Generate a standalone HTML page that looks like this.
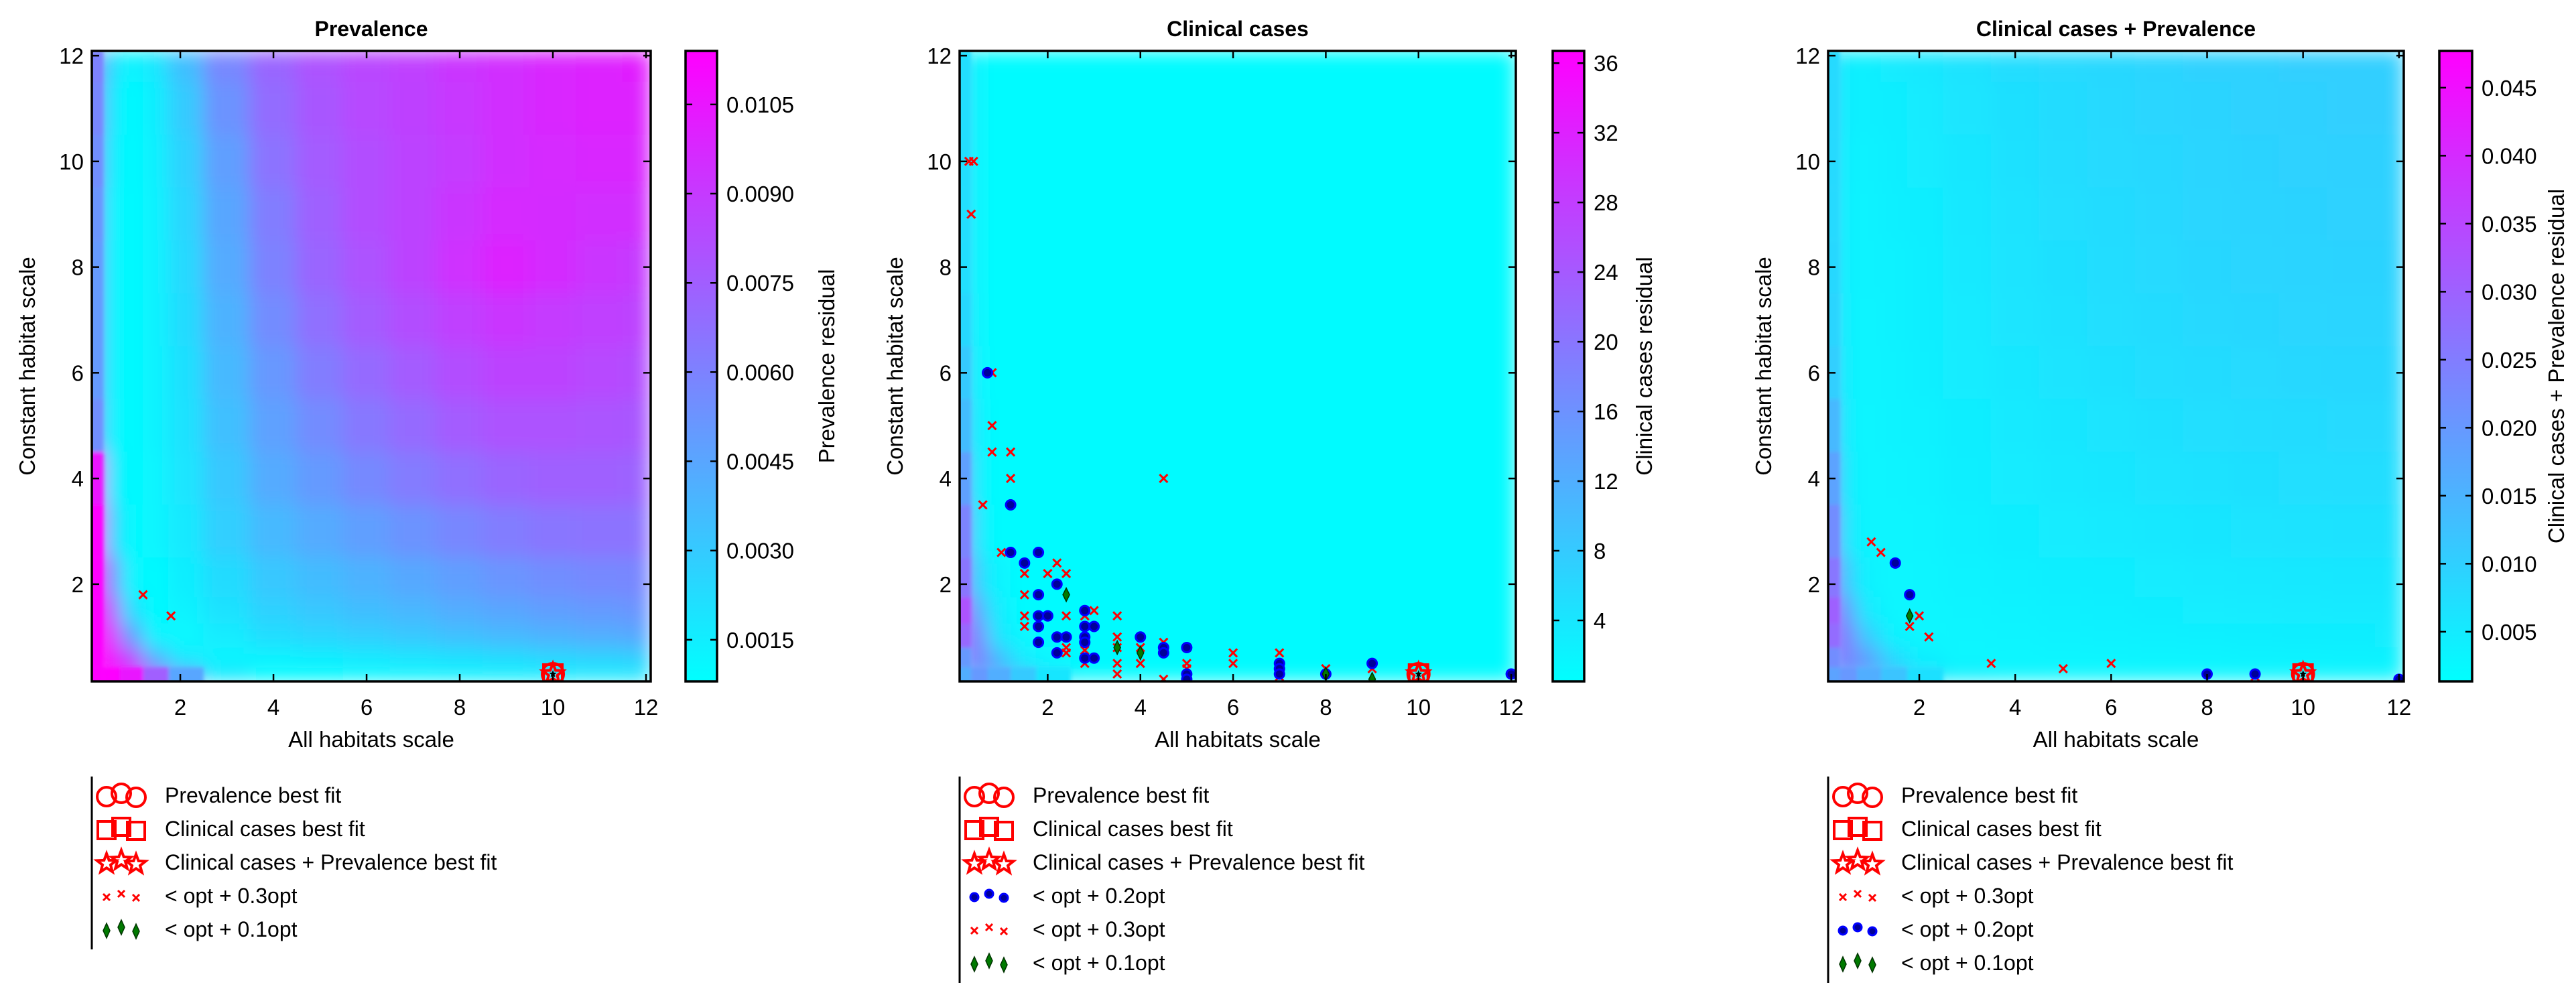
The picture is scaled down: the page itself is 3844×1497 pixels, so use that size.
<!DOCTYPE html>
<html><head><meta charset="utf-8"><style>
html,body{margin:0;padding:0;background:#fff;}
svg{display:block;font-family:"Liberation Sans","DejaVu Sans",sans-serif;}
</style></head><body>
<svg id="fig" xmlns="http://www.w3.org/2000/svg" width="3844" height="1497" viewBox="0 0 3844 1497">
<defs>
<filter id="soft" x="0" y="0" width="1" height="1"><feGaussianBlur stdDeviation="14" edgeMode="duplicate"/></filter>
<filter id="soft2" x="-5%" y="-5%" width="110%" height="110%"><feGaussianBlur stdDeviation="3"/></filter>
<linearGradient id="coolgrad" x1="0" y1="1" x2="0" y2="0"><stop offset="0" stop-color="#00ffff"/><stop offset="1" stop-color="#ff00ff"/></linearGradient>
</defs>
</svg>
<script>
// ---------- data ----------
const xCenters = [0.2,0.5,0.9,1.5,2,3,4,5,6,7,8,9,10,11,12];
const yCenters = [12,11,10,9,8,7,6,5,4,3,2,1.5,1,0.6,0.25];
const xTicks = [2,4,6,8,10,12];
const yTicks = [2,4,6,8,10,12];

// Prevalence residual (x1e-4)
const prevGrid = [
[60,22,12,18,35,58,72,80,85,88,92,95,98,100,102],
[58,18,10,15,30,53,69,78,84,87,91,95,98,100,100],
[55,15,10,14,27,48,66,76,82,86,90,95,97,98,98],
[52,12,10,13,25,45,62,74,82,86,92,97,96,95,95],
[50,12,10,13,24,43,60,72,80,86,94,100,96,92,90],
[50,12,10,13,23,40,56,68,76,82,88,92,90,88,86],
[50,12,10,13,21,37,51,62,70,76,82,86,86,84,82],
[55,12,10,13,20,34,47,56,64,70,76,80,80,79,78],
[105,18,10,12,19,31,43,50,57,63,68,72,74,74,73],
[113,30,10,12,17,28,37,43,48,53,58,62,65,66,66],
[113,60,12,10,15,23,31,36,40,44,48,52,55,57,58],
[113,85,22,10,13,20,27,31,35,38,42,45,48,50,52],
[113,103,48,12,11,16,22,25,28,31,34,37,40,42,44],
[113,110,85,38,16,12,13,15,17,19,21,23,25,27,28],
[113,113,105,75,45,18,10,10,11,12,13,14,15,16,17]];
// Clinical cases residual
const clinGrid = [
[5,1.5,1,1,1,1,1,1,1,1,1,1,1,1,1],
[5,1.5,1,1,1,1,1,1,1,1,1,1,1,1,1],
[5,1.5,1,1,1,1,1,1,1,1,1,1,1,1,1],
[5,1.5,1,1,1,1,1,1,1,1,1,1,1,1,1],
[5,1.5,1,1,1,1,1,1,1,1,1,1,1,1,1],
[6,1.5,1,1,1,1,1,1,1,1,1,1,1,1,1],
[8,1.5,1,1,1,1,1,1,1,1,1,1,1,1,1],
[10,2,1,1,1,1,1,1,1,1,1,1,1,1,1],
[14,2,1,1,1,1,1,1,1,1,1,1,1,1,1],
[18,3,1,1,1,1,1,1,1,1,1,1,1,1,1],
[20,6,2,1,1,1,1,1,1,1,1,1,1,1,1],
[25,12,3,1,1,1,1,1,1,1,1,1,1,1,1],
[22,18,4,1.5,1,1,1,1,1,1,1,1,1,1,1],
[15,20,10,3,1.5,1,1,1,1,1,1,1,1,1,1],
[12,15,12,8,4,1.5,1,1,1,1,1,1,1,1,1]];
// Clinical + prevalence residual (x1e-3)
const combGrid = [
[8,4,4,5,5.5,6.5,7.5,8,8.5,9,9.5,9.5,10,10,10],
[8,4,4,4.5,5,6,7,7.8,8.3,8.8,9.2,9.5,9.8,10,10],
[8,3.8,3.8,4.3,4.8,5.8,6.8,7.5,8,8.5,9,9.3,9.6,9.8,9.8],
[8,3.6,3.6,4,4.5,5.5,6.5,7.2,7.8,8.3,8.8,9.2,9.4,9.5,9.5],
[8.5,3.5,3.5,3.8,4.3,5.3,6.2,7,7.5,8,8.6,9,9.2,9.3,9.3],
[9,3.5,3.4,3.7,4.2,5,6,6.7,7.2,7.7,8.2,8.6,8.8,9,9],
[10,3.5,3.3,3.6,4,4.8,5.6,6.3,6.8,7.3,7.7,8.1,8.4,8.6,8.6],
[14,3.6,3.2,3.5,3.8,4.5,5.2,5.8,6.3,6.8,7.2,7.5,7.8,8,8],
[18,4,3.2,3.4,3.6,4.2,4.8,5.3,5.8,6.2,6.6,6.9,7.2,7.3,7.4],
[22,5,3.2,3.2,3.4,3.9,4.4,4.8,5.2,5.6,5.9,6.2,6.4,6.6,6.7],
[26,10,3.5,3,3.2,3.5,3.9,4.2,4.5,4.8,5.1,5.3,5.5,5.7,5.8],
[30,18,5,3,3,3.3,3.6,3.9,4.1,4.4,4.6,4.8,5,5.1,5.2],
[28,24,10,3.5,3,3.1,3.3,3.5,3.7,3.9,4.1,4.3,4.4,4.5,4.6],
[22,25,18,8,4,3,3,3.1,3.2,3.3,3.4,3.5,3.6,3.7,3.8],
[18,20,16,12,7,4,3,2.8,2.8,2.9,3,3,3.1,3.1,3.2]];

const prevTicks = ["0.0015","0.0030","0.0045","0.0060","0.0075","0.0090","0.0105"];
const clinTicks = ["4","8","12","16","20","24","28","32","36"];
const combTicks = ["0.005","0.010","0.015","0.020","0.025","0.030","0.035","0.040","0.045"];

const bestFitX = [10];
const bestFitY = [0.3];

const p1CrossX = [1.2,1.8];
const p1CrossY = [1.8,1.4];

const p2CrossX = [0.3,0.4,0.35,0.8,0.8,0.8,1.2,1.2,0.6,1.0,4.5,2.2,1.5,2,2.4,1.5,1.5,2.4,3.5,1.5,3,2.8,2.4,2.4,2.8,2.8,3.5,3.5,3.5,3.5,4,4,4.5,4.5,5,5,5,6,6,7,7,8,9];
const p2CrossY = [10,10,9,6,5,4.5,4.5,4,3.5,2.6,4,2.4,2.2,2.2,2.2,1.8,1.4,1.4,1.4,1.2,1.5,1.4,0.8,0.7,0.75,0.5,1.0,0.8,0.5,0.3,0.8,0.5,0.9,0.2,0.8,0.5,0.4,0.7,0.5,0.7,0.25,0.4,0.4];
const p2DotX = [0.7,1.2,1.2,1.5,1.8,2.2,1.8,1.8,2,1.8,1.8,2.2,2.4,2.2,2.8,2.8,2.8,2.8,3,2.8,3,4,4.5,4.5,5,5,5,7,7,7,9,12,8];
const p2DotY = [6,3.5,2.6,2.4,2.6,2.0,1.8,1.4,1.4,1.2,0.9,1.0,1.0,0.7,1.5,1.2,1.0,0.9,1.2,0.6,0.6,1.0,0.8,0.7,0.8,0.3,0.2,0.5,0.4,0.3,0.5,0.3,0.3];
const p2DiaX = [2.4,3.5,4,9,8];
const p2DiaY = [1.8,0.8,0.7,0.2,0.3];

const p3CrossX = [1.0,1.2,2,1.8,2.2,3.5,5,6,9];
const p3CrossY = [2.8,2.6,1.4,1.2,1.0,0.5,0.4,0.5,0.25];
const p3DotX = [1.5,1.8,8,9,12];
const p3DotY = [2.4,1.8,0.3,0.3,0.2];
const p3DiaX = [1.8];
const p3DiaY = [1.4];

// ---------- drawing ----------
const NS = "http://www.w3.org/2000/svg";
const svg = document.getElementById('fig');
const Y0 = 76, Y1 = 1017;
const XMIN = 0.1, XMAX = 12.1, YMIN = 0.16, YMAX = 12.09;

function mk(tag, attrs, parent) {
  const e = document.createElementNS(NS, tag);
  for (const k in attrs) e.setAttribute(k, attrs[k]);
  (parent || svg).appendChild(e);
  return e;
}
function txt(s, attrs, parent) { const t = mk('text', attrs, parent); t.textContent = s; return t; }
function cool(t) { t = Math.max(0, Math.min(1, t)); return `rgb(${Math.round(255*t)},${Math.round(255*(1-t))},255)`; }
function edges(c, lo, hi) {
  const s = c.slice().sort((a,b)=>a-b); const e = [lo];
  for (let i=0;i<s.length-1;i++) e.push((s[i]+s[i+1])/2);
  e.push(hi); return e;
}

function crossM(g, x, y, s, sw) {
  const p = mk('path', {d:`M${x-s},${y-s}L${x+s},${y+s}M${x-s},${y+s}L${x+s},${y-s}`, stroke:'#ff0000', 'stroke-width':sw, fill:'none'}, g);
  
  
}
function dotM(g, x, y, r) {
  const c = mk('circle', {cx:x, cy:y, r:r, fill:'#000099', stroke:'#0000ff', 'stroke-width':3}, g);
  
  
}
function diaM(g, x, y, w, h) {
  const p = mk('path', {d:`M${x},${y-h}L${x+w},${y}L${x},${y+h}L${x-w},${y}Z`, fill:'#007a00', stroke:'#003300', 'stroke-width':1.5}, g);
  
  
}
function starPath(x, y, R) {
  let d = ''; const r = R*0.42;
  for (let i=0;i<10;i++) {
    const a = -Math.PI/2 + i*Math.PI/5; const rr = i%2? r : R;
    d += (i? 'L':'M') + (x+rr*Math.cos(a)).toFixed(1) + ',' + (y+rr*Math.sin(a)).toFixed(1);
  }
  return d + 'Z';
}
function circM(g, x, y, r) {
  const c = mk('circle', {cx:x, cy:y, r:r, fill:'none', stroke:'#ff0000', 'stroke-width':4}, g);
  
  
}
function sqM(g, x, y, s) {
  const c = mk('rect', {x:x-s, y:y-s, width:2*s, height:2*s, fill:'none', stroke:'#ff0000', 'stroke-width':4}, g);
  
  
}
function starM(g, x, y, R) {
  const c = mk('path', {d:starPath(x,y,R), fill:'none', stroke:'#ff0000', 'stroke-width':4}, g);
  
  
}

function panel(cfg, idx) {
  const ax0 = cfg.ax0, ax1 = cfg.ax1;
  const sx = v => ax0 + (v - XMIN) / (XMAX - XMIN) * (ax1 - ax0);
  const sy = v => Y1 - (v - YMIN) / (YMAX - YMIN) * (Y1 - Y0);
  const G = mk('g', {});
  
  

  const cp = mk('clipPath', {id:'clip'+idx});
  mk('rect', {x:ax0, y:Y0, width:ax1-ax0, height:Y1-Y0}, cp);

  const hmOuter = mk('g', {'clip-path':`url(#clip${idx})`}, G);
  
  
  const hm = mk('g', {filter:'url(#soft)'}, hmOuter);
  const hmEdge = mk('g', {filter:'url(#soft2)'}, hmOuter);
  const xe = edges(xCenters, XMIN, XMAX);
  const ye = edges(yCenters, YMIN, YMAX);
  const ysorted = yCenters.slice().sort((a,b)=>a-b);
  const last = yCenters.length - 1;
  for (let r=0;r<yCenters.length;r++) {
    const yi = ysorted.indexOf(yCenters[r]);
    const top = sy(ye[yi+1]), bot = sy(ye[yi]);
    for (let c=0;c<xCenters.length;c++) {
      const v = cfg.grid[r][c] * cfg.mult;
      const fill = cool((v-cfg.vmin)/(cfg.vmax-cfg.vmin));
      const rect = mk('rect', {x:sx(xe[c])-0.5, y:top-0.5, width:sx(xe[c+1])-sx(xe[c])+1, height:bot-top+1, fill:fill}, hm);
      
      
      if (c === 0 || (r === last && c < 5)) {
        const x0 = c === 0 ? sx(xe[c]) - 10 : sx(xe[c]);
        const y1 = r === last ? bot + 10 : bot;
        const er = mk('rect', {x:x0, y:top, width:sx(xe[c+1])-x0, height:y1-top, fill:fill}, hmEdge);
        
        
      }
    }
  }

  const pts = mk('g', {'clip-path':`url(#clip${idx})`}, G);
  
  
  cfg.crossX.forEach((x,i)=>crossM(pts, sx(x), sy(cfg.crossY[i]), 6, 3));
  (cfg.dotX||[]).forEach((x,i)=>dotM(pts, sx(x), sy(cfg.dotY[i]), 7));
  (cfg.diaX||[]).forEach((x,i)=>diaM(pts, sx(x), sy(cfg.diaY[i]), 5, 10));
  bestFitX.forEach((x,i)=>{
    const X = sx(x), Yp = sy(bestFitY[i]);
    circM(pts, X, Yp, 16); sqM(pts, X, Yp, 14); starM(pts, X, Yp, 16);
    const k = mk('path', {d:starPath(X,Yp,6), fill:'#000'}, pts);
    
    
  });

  const fr = mk('rect', {x:ax0, y:Y0, width:ax1-ax0, height:Y1-Y0, fill:'none', stroke:'#000', 'stroke-width':3.5}, G);
  
  

  xTicks.forEach(t=>{
    const X = sx(t);
    const l = mk('path', {d:`M${X},${Y1}v-11M${X},${Y0}v11`, stroke:'#000', 'stroke-width':2.5}, G);
    
    
    const tl = txt(String(t), {x:X, y:Y1+50, 'font-size':33, 'text-anchor':'middle'}, G);
    
    
  });
  yTicks.forEach(t=>{
    const Yv = sy(t);
    const l = mk('path', {d:`M${ax0},${Yv}h11M${ax1},${Yv}h-11`, stroke:'#000', 'stroke-width':2.5}, G);
    
    
    const tl = txt(String(t), {x:ax0-12, y:Yv+12, 'font-size':33, 'text-anchor':'end'}, G);
    
    
  });

  const title = txt(cfg.title, {x:(ax0+ax1)/2, y:54, 'font-size':32, 'font-weight':'bold', 'text-anchor':'middle'}, G);
  
  
  const xl = txt('All habitats scale', {x:(ax0+ax1)/2, y:1115, 'font-size':33, 'text-anchor':'middle'}, G);
  
  
  const yl = txt('Constant habitat scale', {x:0, y:0, 'font-size':33, 'text-anchor':'middle', transform:`translate(${cfg.ylabX},${(Y0+Y1)/2}) rotate(-90)`}, G);
  
  

  const cb = mk('rect', {x:cfg.cb0, y:Y0, width:cfg.cb1-cfg.cb0, height:Y1-Y0, fill:'url(#coolgrad)', stroke:'#000', 'stroke-width':3.5}, G);
  
  
  cfg.cbTicks.forEach(s=>{
    const v = parseFloat(s);
    const Yv = Y1 - (v-cfg.vmin)/(cfg.vmax-cfg.vmin)*(Y1-Y0);
    const l = mk('path', {d:`M${cfg.cb1},${Yv}h-10M${cfg.cb0},${Yv}h10`, stroke:'#000', 'stroke-width':2.5}, G);
    
    
    const tl = txt(s, {x:cfg.cb1+14, y:Yv+12, 'font-size':33}, G);
    
    
  });
  const cl = txt(cfg.cbLabel, {x:0, y:0, 'font-size':33, 'text-anchor':'middle', transform:`translate(${cfg.cbLabX},${(Y0+Y1)/2}) rotate(-90)`}, G);
  
  

  const L = mk('g', {}, G);
  
  
  const rows = cfg.legend;
  const ln = mk('path', {d:`M${ax0},1159V${1187 + (rows.length-1)*50 + 30}`, stroke:'#000', 'stroke-width':3}, L);
  
  
  const offs = [[22,2],[44,-3],[66,3]];
  rows.forEach((r,i)=>{
    const cy = 1187 + i*50;
    const eg = mk('g', {}, L);
    
    
    offs.forEach(o=>{
      const X = ax0 + o[0], Yv = cy + o[1];
      if (r[0]==='circle') circM(eg, X, Yv, 14);
      else if (r[0]==='square') sqM(eg, X, Yv, 13);
      else if (r[0]==='star') starM(eg, X, Yv, 15);
      else if (r[0]==='cross') crossM(eg, X, Yv, 5, 3);
      else if (r[0]==='dot') dotM(eg, X, Yv, 6);
      else if (r[0]==='dia') diaM(eg, X, Yv, 5, 11);
    });
    txt(r[1], {x:ax0+109, y:cy+11, 'font-size':32}, eg);
  });
}

const base = [['circle','Prevalence best fit'],['square','Clinical cases best fit'],['star','Clinical cases + Prevalence best fit']];

panel({name:'prevalence', ax0:137, ax1:971, cb0:1023, cb1:1070, ylabX:52, cbLabX:1245,
  title:'Prevalence', cbLabel:'Prevalence residual', grid:prevGrid, mult:1e-4, vmin:0.0008, vmax:0.0114,
  cbTicks:prevTicks, crossX:p1CrossX, crossY:p1CrossY,
  legend: base.concat([['cross','< opt + 0.3opt'],['dia','< opt + 0.1opt']])}, 1);

panel({name:'clinical', ax0:1432, ax1:2262, cb0:2317, cb1:2364, ylabX:1347, cbLabX:2465,
  title:'Clinical cases', cbLabel:'Clinical cases residual', grid:clinGrid, mult:1, vmin:0.5, vmax:36.7,
  cbTicks:clinTicks, crossX:p2CrossX, crossY:p2CrossY, dotX:p2DotX, dotY:p2DotY, diaX:p2DiaX, diaY:p2DiaY,
  legend: base.concat([['dot','< opt + 0.2opt'],['cross','< opt + 0.3opt'],['dia','< opt + 0.1opt']])}, 2);

panel({name:'combined', ax0:2728, ax1:3587, cb0:3640, cb1:3689, ylabX:2643, cbLabX:3826,
  title:'Clinical cases + Prevalence', cbLabel:'Clinical cases + Prevalence residual', grid:combGrid, mult:1e-3, vmin:0.00135, vmax:0.0477,
  cbTicks:combTicks, crossX:p3CrossX, crossY:p3CrossY, dotX:p3DotX, dotY:p3DotY, diaX:p3DiaX, diaY:p3DiaY,
  legend: base.concat([['cross','< opt + 0.3opt'],['dot','< opt + 0.2opt'],['dia','< opt + 0.1opt']])}, 3);
</script>
</body></html>
